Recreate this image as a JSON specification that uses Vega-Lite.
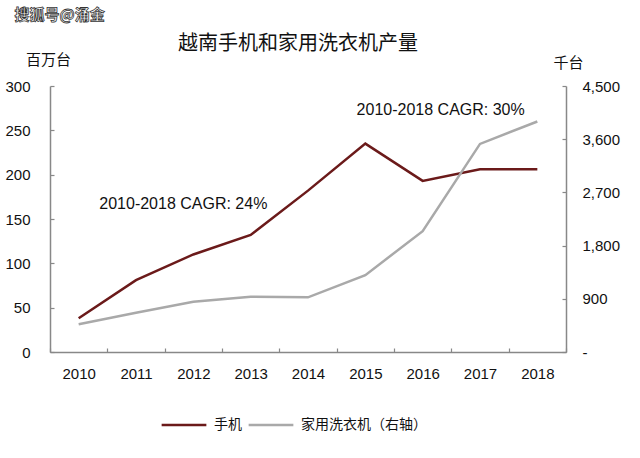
{
  "$schema": "https://vega.github.io/schema/vega-lite/v6.json",
  "width": 516,
  "height": 266,
  "autosize": {"type": "none"},
  "padding": {"left": 50, "top": 86, "right": 74, "bottom": 106},
  "background": "white",
  "config": {
    "view": {"stroke": null},
    "axis": {"grid": false, "domainColor": "#888", "domainWidth": 1.5, "tickColor": "#888", "tickWidth": 1.2, "labelFont": "Liberation Sans", "labelFontSize": 15, "labelColor": "#111", "titleFont": "Noto Sans CJK SC", "titleFontSize": 15, "titleFontWeight": "normal", "titleColor": "#111"},
    "legend": {"orient": "none", "legendX": 110, "legendY": 315, "direction": "horizontal", "symbolType": "stroke", "symbolSize": 2000, "symbolStrokeWidth": 2.5, "labelFont": "Noto Sans CJK SC", "labelFontSize": 14, "labelColor": "#111", "columnPadding": 1, "labelOffset": 6, "title": null}
  },
  "data": {"values": [
    {"year": 2010, "phone": 38, "washer": 470},
    {"year": 2011, "phone": 81, "washer": 665},
    {"year": 2012, "phone": 110, "washer": 850},
    {"year": 2013, "phone": 132, "washer": 935},
    {"year": 2014, "phone": 182, "washer": 925},
    {"year": 2015, "phone": 235, "washer": 1300},
    {"year": 2016, "phone": 193, "washer": 2045},
    {"year": 2017, "phone": 206, "washer": 3520},
    {"year": 2018, "phone": 206, "washer": 3900}
  ]},
  "layer": [
    {
      "layer": [
        {
          "mark": {"type": "line", "strokeWidth": 2.5},
          "encoding": {
            "x": {"field": "year", "type": "ordinal", "bandPosition": 0.5, "scale": {"type": "band", "paddingInner": 0, "paddingOuter": 0}, "axis": {"title": null, "labelAngle": 0, "tickBand": "extent", "tickSize": -4, "labelPadding": 18}},
            "y": {"field": "phone", "type": "quantitative", "scale": {"domain": [0, 300]}, "axis": {"values": [0, 50, 100, 150, 200, 250, 300], "tickSize": -4, "labelPadding": 24, "title": "百万台", "titleAngle": 0, "titleX": -2, "titleY": -27, "titleAlign": "center", "titleBaseline": "middle"}},
            "color": {"datum": "手机", "type": "nominal", "scale": {"domain": ["手机", "家用洗衣机（右轴）"], "range": ["#6b1a1a", "#a9a9a9"]}}
          }
        },
        {
          "data": {"values": [{"label": "2010-2018 CAGR: 24%"}]},
          "mark": {"type": "text", "font": "Liberation Sans", "fontSize": 16, "fill": "#111", "align": "center", "baseline": "middle", "dx": -10},
          "encoding": {
            "x": {"datum": 2012, "type": "ordinal", "bandPosition": 0.5},
            "y": {"datum": 167, "type": "quantitative", "scale": {"domain": [0, 300]}},
            "text": {"field": "label"}
          }
        },
        {
          "data": {"values": [{"label": "2010-2018 CAGR: 30%"}]},
          "mark": {"type": "text", "font": "Liberation Sans", "fontSize": 16, "fill": "#111", "align": "center", "baseline": "middle", "dx": 18},
          "encoding": {
            "x": {"datum": 2016, "type": "ordinal", "bandPosition": 0.5},
            "y": {"datum": 273, "type": "quantitative", "scale": {"domain": [0, 300]}},
            "text": {"field": "label"}
          }
        },
        {
          "data": {"values": [{"label": "越南手机和家用洗衣机产量"}]},
          "mark": {"type": "text", "font": "Noto Sans CJK SC", "fontSize": 20, "fill": "#111", "align": "center", "baseline": "middle", "dx": -10},
          "encoding": {
            "x": {"datum": 2014, "type": "ordinal", "bandPosition": 0.5},
            "y": {"datum": 347, "type": "quantitative", "scale": {"domain": [0, 300]}},
            "text": {"field": "label"}
          }
        },
        {
          "data": {"values": [{"label": "搜狐号@涌金"}]},
          "mark": {"type": "text", "font": "Noto Sans CJK SC", "fontSize": 15, "fontWeight": "bold", "fill": "#ffffff", "stroke": "#333", "strokeWidth": 0.8, "align": "center", "baseline": "middle", "dx": -19},
          "encoding": {
            "x": {"datum": 2010, "type": "ordinal", "bandPosition": 0.5},
            "y": {"datum": 380, "type": "quantitative", "scale": {"domain": [0, 300]}},
            "text": {"field": "label"}
          }
        }
      ]
    },
    {
      "mark": {"type": "line", "strokeWidth": 2.5},
      "encoding": {
        "x": {"field": "year", "type": "ordinal", "bandPosition": 0.5},
        "y": {"field": "washer", "type": "quantitative", "scale": {"domain": [0, 4500]}, "axis": {"orient": "right", "values": [0, 900, 1800, 2700, 3600, 4500], "labelExpr": "datum.value == 0 ? '-' : format(datum.value, ',')", "tickSize": -4, "labelPadding": 20, "title": "千台", "titleAngle": 0, "titleX": 2, "titleY": -24, "titleAlign": "center", "titleBaseline": "middle"}},
        "color": {"datum": "家用洗衣机（右轴）", "type": "nominal"}
      }
    }
  ],
  "resolve": {"scale": {"y": "independent"}}
}
